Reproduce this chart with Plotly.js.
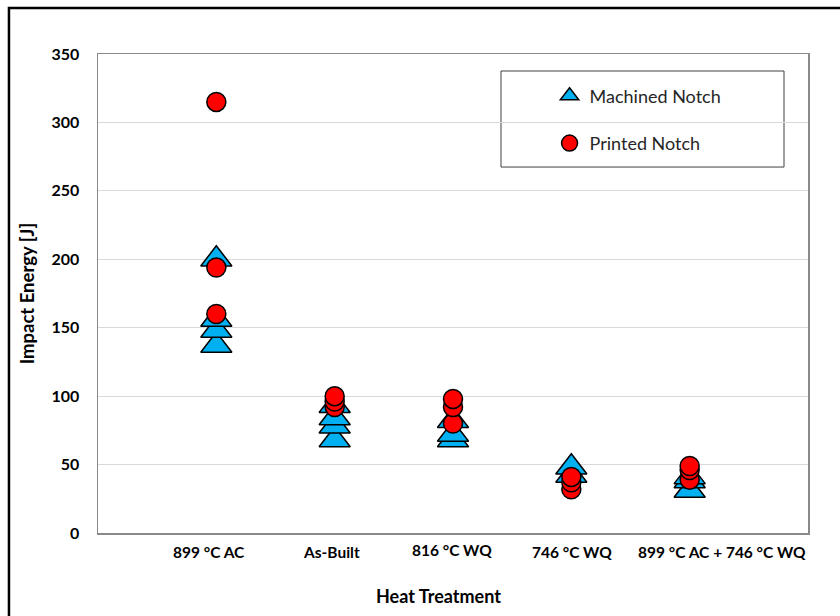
<!DOCTYPE html>
<html>
<head>
<meta charset="utf-8">
<script src="https://cdn.plot.ly/plotly-3.0.1.min.js"></script>
<style>
  html, body { margin: 0; padding: 0; background: #ffffff; }
  #chart { width: 840px; height: 616px; }
</style>
</head>
<body>
<div id="chart"></div>
<script>
// ---- data ----
const categories = ["899 °C AC", "As-Built", "816 °C WQ", "746 °C WQ", "899 °C AC + 746 °C WQ"];
const machinedNotch = [
  [137, 148, 156, 200],
  [68, 78, 84, 93],
  [68, 72, 82],
  [42, 48],
  [31, 38, 41]
];
const printedNotch = [
  [160, 194, 315],
  [92, 96, 100],
  [80, 92, 98],
  [32, 37, 41],
  [39, 46, 49]
];
const yTicks = [0, 50, 100, 150, 200, 250, 300, 350];

// ---- layout helpers (positions only) ----
const labelX = [0.938, 1.969, 2.992, 4.006, 5.273];
const labelY = [-0.017, -0.017, -0.012, -0.016, -0.016];

function flatten(groups) {
  const xs = [], ys = [];
  groups.forEach((vals, i) => vals.forEach(v => { xs.push(i + 1); ys.push(v); }));
  return { xs, ys };
}

const m = flatten(machinedNotch);
const p = flatten(printedNotch);

const FONT = "Lato, 'Open Sans', sans-serif";

const traces = [
  {
    type: "scatter", mode: "markers", name: "Machined Notch",
    x: m.xs, y: m.ys, legendgroup: "a",
    marker: { symbol: "triangle-up", size: 27, color: "#00B0F0", line: { color: "#000000", width: 1.5 } }
  },
  {
    type: "scatter", mode: "markers", name: "Printed Notch",
    x: p.xs, y: p.ys, legendgroup: "b",
    marker: { symbol: "circle", size: 19, color: "#FF0000", line: { color: "#000000", width: 1.5 } }
  }
];

const annotations = categories.map((c, i) => ({
  text: "<b>" + c + "</b>", x: labelX[i], xref: "x", y: labelY[i], yref: "paper",
  showarrow: false, xanchor: "center", yanchor: "top",
  font: { family: FONT, size: 15.5, color: "#000000" }
}));
annotations.push({
  text: "<b>Heat Treatment</b>", x: 0.480, xref: "paper", y: -0.131, yref: "paper",
  showarrow: false, xanchor: "center", yanchor: "middle",
  font: { family: FONT, size: 18, color: "#000000" }
});

const layout = {
  width: 840, height: 616,
  margin: { l: 98, r: 32, t: 54, b: 83 },
  paper_bgcolor: "#ffffff", plot_bgcolor: "#ffffff",
  font: { family: FONT, color: "#000000" },
  showlegend: true,
  legend: {
    x: 0.636, y: 0.951, xanchor: "left", yanchor: "top",
    bgcolor: "rgba(0,0,0,0)", borderwidth: 0,
    tracegroupgap: 21,
    font: { family: FONT, size: 18, color: "#262626" }
  },
  xaxis: {
    range: [0, 6], showticklabels: false, ticks: "", showgrid: false, zeroline: false,
    showline: true, mirror: true, linecolor: "#898989", linewidth: 1.5
  },
  yaxis: {
    range: [0, 350], tickvals: yTicks, ticktext: yTicks.map(v => "<b>" + v + "</b>"),
    showgrid: true, gridcolor: "#d9d9d9", gridwidth: 1, zeroline: false,
    showline: true, mirror: true, linecolor: "#898989", linewidth: 1.5,
    ticks: "", ticklabelstandoff: 14,
    tickfont: { family: FONT, size: 16, color: "#000000" },
    title: { text: "<b>Impact Energy [J]</b>", standoff: 12, font: { family: FONT, size: 18.5, color: "#000000" } }
  },
  shapes: [
    { type: "rect", xref: "paper", yref: "paper", x0: 0.5676, x1: 0.9662, y0: 0.764, y1: 0.9645,
      line: { color: "#404040", width: 1 }, fillcolor: "rgba(0,0,0,0)", layer: "below" },
    { type: "rect", xref: "paper", yref: "paper", x0: -0.1254, x1: 1.06, y0: -0.2, y1: 1.096,
      line: { color: "#000000", width: 2.5 }, fillcolor: "rgba(0,0,0,0)", layer: "above" }
  ],
  annotations: annotations
};

Plotly.newPlot("chart", traces, layout, { displayModeBar: false, staticPlot: true });
</script>
</body>
</html>
